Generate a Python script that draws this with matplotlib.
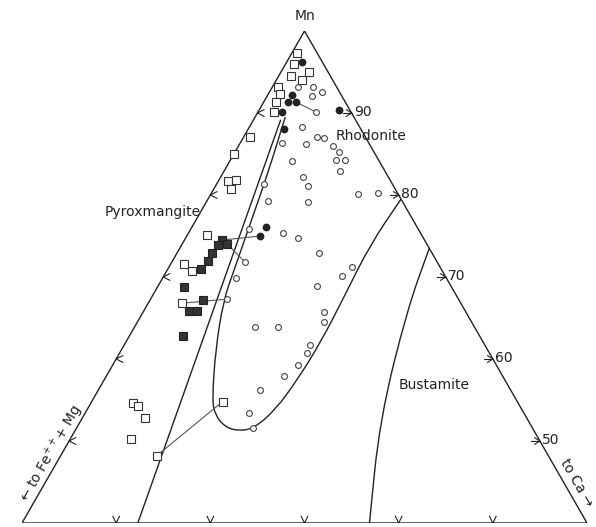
import numpy as np
import matplotlib.pyplot as plt
from matplotlib.path import Path
from matplotlib.patches import PathPatch

# ternary sub-triangle: Mn 40-100 %, the rest is Ca and Fe++ + Mg
MN_MIN = 40

# compositions, (Mn %, Ca %)
open_sq_mn = [97.3, 96.0, 95.0, 94.5, 94.0, 93.2, 92.3, 91.3, 90.1, 87.1, 85.0, 81.7,
              81.8, 80.7, 75.1, 71.6, 70.7, 66.8, 54.6, 54.3, 52.8, 50.2, 48.2, 54.8]
open_sq_ca = [0.6, 0.9, 3.0, 1.3, 2.7, 0.6, 1.3, 1.3, 1.7, 0.7, 0.0, 1.0,
              1.8, 1.8, 2.1, 1.4, 2.7, 3.6, 4.5, 5.2, 6.7, 6.5, 10.2, 13.9]

full_sq_mn = [74.5, 74.0, 73.9, 72.9, 72.0, 71.0, 68.8, 67.2, 65.9, 65.9, 62.8]
full_sq_ca = [4.0, 4.8, 3.9, 3.7, 3.7, 3.5, 2.8, 5.6, 4.8, 5.6, 5.7]

full_ci_mn = [96.2, 92.2, 91.3, 91.3, 90.1, 90.4, 88.0, 76.1, 75.0]
full_ci_ca = [1.6, 2.6, 2.6, 3.5, 2.6, 8.5, 3.8, 7.9, 7.8]

open_ci_mn = [93.2, 93.2, 92.6, 92.1, 90.1, 88.3, 86.3, 86.2, 87.1, 87.0, 86.0, 85.2,
              84.3, 84.3, 82.9, 84.1, 82.2, 81.1, 79.1, 81.3, 79.3, 80.1, 80.2, 75.9,
              75.4, 74.8, 72.9, 71.2, 70.1, 68.9, 71.8, 69.9, 67.3, 65.7, 64.5, 63.9,
              63.9, 61.7, 60.7, 59.3, 57.9, 56.2, 53.4, 51.6]
open_ci_ca = [2.7, 4.3, 5.6, 4.7, 6.2, 5.6, 4.5, 7.1, 7.8, 8.6, 10.0, 11.1,
              11.2, 12.2, 12.3, 6.6, 8.7, 9.8, 10.8, 5.1, 6.5, 15.6, 17.7, 6.2,
              10.0, 11.9, 15.1, 19.4, 18.9, 16.9, 7.8, 7.8, 8.1, 19.2, 19.8, 12.8,
              15.2, 19.7, 19.9, 19.7, 18.9, 17.2, 17.4, 18.7]

# coexisting pairs (Mn1, Ca1, Mn2, Ca2)
tie_lines = [(91.3, 3.5, 90.1, 6.2),
             (74.5, 4.0, 75.0, 7.8),
             (74.0, 4.8, 71.8, 7.8),
             (66.8, 3.6, 67.3, 8.1),
             (48.2, 10.2, 54.8, 13.9)]

# field boundaries
pyx_line_mn = [89.1, 40.0]
pyx_line_ca = [2.9, 12.3]
rhod_mn = [89.5, 83.05, 76.95, 70.85, 67.2, 61.1, 55.0, 53.2, 51.7, 51.2, 51.6, 53.8,
           57.4, 62.0, 67.8, 73.9, 79.5]
rhod_ca = [3.2, 4.7, 5.9, 7.1, 7.8, 10.0, 12.7, 13.9, 15.7, 17.5, 18.9, 20.0,
           20.5, 20.7, 20.4, 20.0, 20.5]
bust_mn = [73.5, 66.0, 52.6, 40.0]
bust_ca = [26.5, 27.9, 31.7, 36.9]

tick_values = [90, 80, 70, 60, 50]
bottom_ticks = [10, 20, 30, 40, 50]


def tern(mn, ca):
    a = np.asarray(mn, float) - MN_MIN
    return np.asarray(ca, float) + a / 2, a * np.sqrt(3) / 2


def smooth(mn, ca):
    x, y = tern(mn, ca)
    p = np.column_stack([x, y])
    mid = (p[:-1] + p[1:]) / 2
    verts = [p[0], mid[0]]
    codes = [Path.MOVETO, Path.LINETO]
    for i in range(1, len(p) - 1):
        verts += [p[i], mid[i]]
        codes += [Path.CURVE3, Path.CURVE3]
    verts.append(p[-1])
    codes.append(Path.LINETO)
    return Path(verts, codes)


fig = plt.figure(figsize=(5.96, 5.27), dpi=100)
ax = fig.add_axes([22 / 596, 4 / 527, 565 / 596, 492 / 527])
H = 60 * np.sqrt(3) / 2
ax.set_xlim(0, 60)
ax.set_ylim(0, H)
ax.axis('off')

lc = '#222222'
lw = 1.0

# outline
tx, ty = tern([100, 40, 40, 100], [0, 0, 60, 0])
ax.plot(tx, ty, color=lc, lw=lw, solid_joinstyle='miter')

# tick marks
for v in tick_values:
    x, y = tern(v, 100 - v)           # right edge
    ax.plot([x - 0.9, x], [y, y], color=lc, lw=0.8)
    ax.plot([x - 0.55, x, x - 0.55], [y + 0.35, y, y - 0.35], color=lc, lw=0.8)
    ax.text(x + 0.25, y + 0.1, str(v), fontsize=10, ha='left', va='center', color=lc)
    x, y = tern(v, 0)                 # left edge
    ax.plot([x + 0.7, x, x + 0.7], [y + 0.35, y, y - 0.35], color=lc, lw=0.8)
for v in bottom_ticks:
    x, y = tern(MN_MIN, v)
    ax.plot([x - 0.35, x, x + 0.35], [y + 0.7, y, y + 0.7], color=lc, lw=0.8)

# boundaries
x, y = tern(pyx_line_mn, pyx_line_ca)
ax.plot(x, y, color=lc, lw=lw)
ax.add_patch(PathPatch(smooth(rhod_mn, rhod_ca), fill=False, ec=lc, lw=lw))
ax.add_patch(PathPatch(smooth(bust_mn, bust_ca), fill=False, ec=lc, lw=lw))

# tie lines
for m1, c1, m2, c2 in tie_lines:
    x, y = tern([m1, m2], [c1, c2])
    ax.plot(x, y, color='#555555', lw=0.8, zorder=2)

# analyses
x, y = tern(open_ci_mn, open_ci_ca)
ax.plot(x, y, 'o', ms=4.2, mfc='white', mec='#444444', mew=0.8, zorder=3)
x, y = tern(full_ci_mn, full_ci_ca)
ax.plot(x, y, 'o', ms=4.6, mfc='#222222', mec='#222222', zorder=3)
x, y = tern(open_sq_mn, open_sq_ca)
ax.plot(x, y, 's', ms=6.0, mfc='white', mec='#333333', mew=0.8, zorder=3)
x, y = tern(full_sq_mn, full_sq_ca)
ax.plot(x, y, 's', ms=6.0, mfc='#333333', mec='#222222', mew=0.8, zorder=3)

# labels
x, y = tern(100, 0)
ax.text(x, y + 0.8, 'Mn', fontsize=10, ha='center', va='bottom', color=lc)
ax.text(37.05, 40.87, 'Rhodonite', fontsize=10, ha='center', va='center', color=lc)
ax.text(13.9, 32.84, 'Pyroxmangite', fontsize=10, ha='center', va='center', color=lc)
ax.text(43.8, 14.6, 'Bustamite', fontsize=10, ha='center', va='center', color=lc)
ax.text(3.1, 7.3, '\u2190 to Fe$^{++}$+ Mg', fontsize=10, rotation=60,
        rotation_mode='anchor', ha='center', va='center', color=lc)
ax.text(58.9, 4.2, 'to Ca \u2192', fontsize=10, rotation=-60,
        rotation_mode='anchor', ha='center', va='center', color=lc, clip_on=False)

fig.savefig('out.png', dpi=100)
